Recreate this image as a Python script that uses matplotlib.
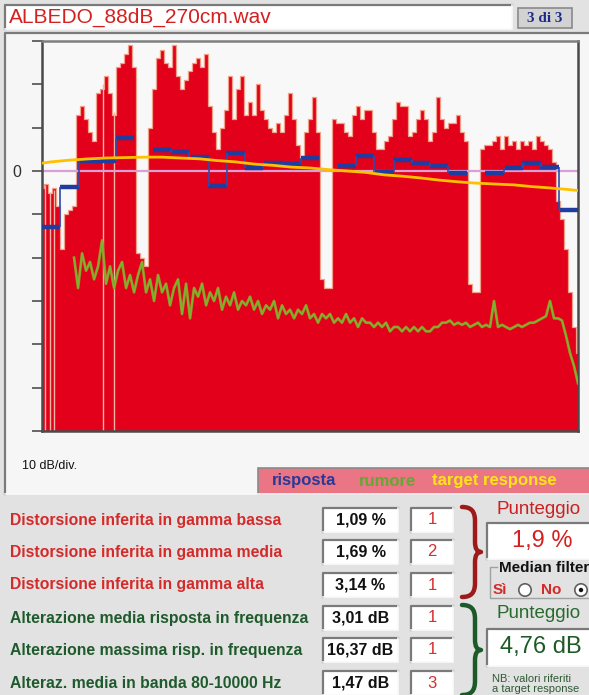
import numpy as np
import matplotlib
matplotlib.use("Agg")
import matplotlib.pyplot as plt
from matplotlib.patches import Rectangle, Circle, PathPatch
from matplotlib.path import Path
from matplotlib.ticker import NullLocator

plt.rcParams['font.family'] = ['Liberation Sans', 'DejaVu Sans']

# ---- data (dB relative, 10 dB/div) ----
f_lo, f_hi = 22.4, 17800  # frequency range of the plot, Hz

# measured response, sampled evenly on the log axis
resp_db = [-4, -3, -5, -4, -8, -18, -10, -9, -8, 13,
           15, 12, 9, 7, 18, 19, 22, 18, 13, 24,
           25, 27, 29, 24, -19, -20, -22, 10, 19, 26,
           28, 25, 24, 29, 22, 19, 21, 23, 25, 26,
           24, 27, 15, 9, 5, 10, 14, 22, 12, 19,
           22, 13, 16, 13, 20, 14, 12, 10, 9, 11,
           9, 13, 18, 12, 6, 3, 9, 12, 17, 9,
           -25, -27, -27, 12, 11, 11, 9, 8, 13, 15,
           12, 14, 14, 9, 5, 5, 7, 8, 12, 16,
           15, 15, 8, 9, 12, 14, 12, 7, 9, 17,
           12, 10, 11, 11, 13, 9, 7, -26, -28, -28,
           5, 6, 6, 7, 8, 5, 8, 6, 7, 5,
           7, 6, 7, 5, 8, 7, 6, 5, 2, -7,
           -11, -18, -28, -36, -42]

# narrow dropouts in the low range
dropout_hz = [23.3, 24.8, 26.1, 48.1, 55.1]

# noise ("rumore"), from noise_lo_hz to f_hi
noise_lo_hz = 33.4
noise_db = [-20, -27, -19, -23, -21, -25, -22, -16, -26, -22,
            -27, -23, -21, -27, -24, -28, -24, -21, -28, -25,
            -30, -24, -28, -26, -31, -27, -25, -33, -26, -34,
            -27, -29, -26, -31, -28, -30, -27, -32, -29, -31,
            -28, -32, -30, -31, -29, -32, -30, -33, -31, -32,
            -30, -34, -31, -33, -32, -34, -32, -33, -31, -34,
            -33, -35, -33, -34, -33, -35, -34, -35, -33, -35,
            -34, -36, -34, -35, -35, -36, -35, -36, -35, -37,
            -36, -36, -37, -36, -37, -36, -37, -36, -37, -37,
            -36, -36, -35, -35, -34.5, -35.5, -35, -35.5, -35, -36,
            -35.5, -35, -36, -35.5, -36, -30, -36, -35.5, -36, -36.5,
            -36, -35.5, -36, -35.5, -35, -35, -34.5, -34, -33.5, -30,
            -34, -34, -34.5, -38, -42, -45, -49]

# 1/3 octave bands: response ("risposta") and target response
band_hz = [25, 31.5, 40, 50, 63, 80, 100, 125, 160, 200, 250, 315, 400, 500,
           630, 800, 1000, 1250, 1600, 2000, 2500, 3150, 4000, 5000, 6300,
           8000, 10000, 12500, 16000]
band_db = [-12.9, -3.7, 2.3, 2.3, 7.6, np.nan, 4.8, 4.4, 3.2, -3.5, 4.2, 0.7,
           1.8, 1.6, 3.0, np.nan, 1.2, 3.5, -0.2, 2.5, 1.8, 1.2, -0.5, np.nan,
           -0.5, 0.7, 1.8, 0.9, -9.0]
target_db = [2.1, 2.5, 2.8, 3.0, 3.1, 3.2, 3.2, 3.0, 2.8, 2.4, 2.1, 1.6, 1.3,
             0.9, 0.7, 0.3, 0.0, -0.3, -0.9, -1.2, -1.6, -2.1, -2.5, -2.8,
             -3.0, -3.2, -3.6, -3.9, -4.3]

# table below the chart
row_labels = ["Distorsione inferita in gamma bassa",
              "Distorsione inferita in gamma media",
              "Distorsione inferita in gamma alta",
              "Alterazione media risposta in frequenza",
              "Alterazione massima risp. in frequenza",
              "Alteraz. media in banda 80-10000 Hz"]
row_values = ["1,09 %", "1,69 %", "3,14 %", "3,01 dB", "16,37 dB", "1,47 dB"]
row_scores = ["1", "2", "1", "1", "1", "3"]
score_dist = "1,9 %"
score_freq = "4,76 dB"

RED_TXT = '#d42a2a'
GREEN_TXT = '#1f5a2c'

# ---- figure and UI layer (pixel coordinates) ----
W, H = 589, 695
fig = plt.figure(figsize=(W / 100, H / 100), dpi=100, facecolor='#e2e2e2')
ui = fig.add_axes([0, 0, 1, 1])
ui.set_xlim(0, W)
ui.set_ylim(H, 0)
ui.axis('off')


def box(x0, y0, x1, y1, face='white'):
    ui.add_patch(Rectangle((x0, y0), x1 - x0, y1 - y0, facecolor=face, edgecolor='none'))
    ui.plot([x0, x0, x1], [y1, y0, y0], color='#7a7a7a', lw=1.6)
    ui.plot([x1, x1, x0], [y0, y1, y1], color='#fafafa', lw=1.2)


def brace(y0, y1, color):
    x0, x1, xm = 462, 475, 481
    ym = (y0 + y1) / 2
    verts = [(x0, y0), (x0 + 9, y0), (x1, y0 + 4), (x1, y0 + 14),
             (x1, ym - 10),
             (x1, ym), (xm, ym),
             (x1, ym), (x1, ym + 10),
             (x1, y1 - 14),
             (x1, y1 - 4), (x0 + 9, y1), (x0, y1)]
    codes = [Path.MOVETO, Path.CURVE4, Path.CURVE4, Path.CURVE4,
             Path.LINETO,
             Path.CURVE3, Path.CURVE3,
             Path.CURVE3, Path.CURVE3,
             Path.LINETO,
             Path.CURVE4, Path.CURVE4, Path.CURVE4]
    ui.add_patch(PathPatch(Path(verts, codes), facecolor='none', edgecolor=color,
                           lw=3.2, capstyle='round', joinstyle='round'))


# title bar
box(5, 5, 512, 29)
ui.text(9, 17.5, "ALBEDO_88dB_270cm.wav", color='#d42020', fontsize=15, va='center')
ui.add_patch(Rectangle((518, 8), 54, 20, facecolor='#d2d2d2', edgecolor='#8a8a8a', lw=1.2))
ui.text(545, 18, "3 di 3", color='#1c2a8c', fontsize=11, fontweight='bold',
        family='Liberation Serif', ha='center', va='center')

# chart panel
box(5, 33, 594, 494, face='#f6f6f6')
ui.text(22, 466, "10 dB/div.", fontsize=9, color='#111111', va='center')
ui.add_patch(Rectangle((258, 468), 340, 26, facecolor='#ea7585', edgecolor='#8a8a8a', lw=1.2))
ui.text(272, 481, "risposta", color='#2a3896', fontsize=12, fontweight='bold', va='center')
ui.text(359, 481, "rumore", color='#62a832', fontsize=12, fontweight='bold', va='center')
ui.text(432, 481, "target response", color='#ffe418', fontsize=12, fontweight='bold', va='center')

# table
row_y = [520, 552, 585, 618, 650, 683]
for i, (lab, val, sc) in enumerate(zip(row_labels, row_values, row_scores)):
    y = row_y[i]
    ui.text(10, y, lab, color=RED_TXT if i < 3 else GREEN_TXT, fontsize=11.3,
            fontweight='bold', va='center')
    box(323, y - 12, 398, y + 12)
    ui.text(360.5, y, val, fontsize=11.5, fontweight='bold', color='#111111',
            ha='center', va='center')
    box(411, y - 12, 453, y + 12)
    ui.text(432, y, sc, fontsize=12, color='#d03030', ha='center', va='center')

brace(507, 597, '#9c1a1a')
brace(605, 695, '#1c5a2a')

# score panels
ui.text(497, 510, "Punteggio", color='#cc2020', fontsize=13.5, va='center')
box(487, 523, 595, 559)
ui.text(542, 541, score_dist, color='#d42020', fontsize=17, ha='center', va='center')

ui.plot([497, 490, 490, 595], [567, 567, 598, 598], color='#a0a0a0', lw=1)
ui.text(499, 568, "Median filter", fontsize=11, fontweight='bold', color='#111111', va='center')
ui.text(493, 590, "Sì", fontsize=11, fontweight='bold', color=RED_TXT, va='center')
ui.add_patch(Circle((525, 590), 6.2, facecolor='white', edgecolor='#606060', lw=1.2))
ui.text(541, 590, "No", fontsize=11, fontweight='bold', color=RED_TXT, va='center')
ui.add_patch(Circle((581, 590), 6.2, facecolor='white', edgecolor='#606060', lw=1.2))
ui.add_patch(Circle((581, 590), 2.2, facecolor='#111111', edgecolor='none'))

ui.text(497, 614, "Punteggio", color='#2a6a2e', fontsize=13.5, va='center')
box(487, 629, 595, 666)
ui.text(541, 647, score_freq, color='#1e5a28', fontsize=17, ha='center', va='center')
ui.text(492, 679, "NB: valori riferiti", color='#2e5a34', fontsize=8, va='center')
ui.text(492, 688.5, "a target response", color='#2e5a34', fontsize=8, va='center')

# ---- chart ----
ax = fig.add_axes([42 / W, 1 - 431 / H, 536 / W, 390 / H])
ax.set_facecolor('#f8f8f8')
ax.set_xscale('log')
ax.set_xlim(f_lo, f_hi)
ax.set_ylim(-60, 30)

resp_hz = np.geomspace(f_lo, f_hi, len(resp_db))
ax.fill_between(resp_hz, -60, resp_db, step='mid', color='#e2001a', lw=0, zorder=1)
ax.step(resp_hz, resp_db, where='mid', color='#f3a08a', lw=0.9, zorder=1.1)
drop_top = np.interp(np.log(dropout_hz), np.log(resp_hz), resp_db)
ax.vlines(dropout_hz, -60, drop_top, color='#f6b4a4', lw=1, zorder=1.2)

ax.axhline(0, color='#d8a0d6', lw=1.6, zorder=2)

noise_hz = np.geomspace(noise_lo_hz, f_hi, len(noise_db))
ax.plot(noise_hz, noise_db, color='#a08a22', lw=2.0, zorder=3)
ax.plot(noise_hz, noise_db, color='#7cb432', lw=1.1, zorder=3.1)

band = np.array(band_hz, dtype=float)
lvl = np.array(band_db, dtype=float)
lo, hi = band / 10 ** 0.05, band * 10 ** 0.05
ax.hlines(lvl, lo, hi, color='#1f3c9e', lw=3.2, zorder=4)
for k in range(len(lvl) - 1):
    if np.isfinite(lvl[k]) and np.isfinite(lvl[k + 1]):
        ax.vlines(hi[k], min(lvl[k], lvl[k + 1]), max(lvl[k], lvl[k + 1]),
                  color='#2c4cb0', lw=1.2, zorder=4)

t_hz = [f_lo] + band_hz + [f_hi]
t_db = [target_db[0] - 0.3] + target_db + [target_db[-1] - 0.2]
ax.plot(t_hz, t_db, color='#ffc000', lw=2.0, zorder=5)

ax.xaxis.set_minor_locator(NullLocator())
ax.tick_params(axis='x', which='both', bottom=False, labelbottom=False)
yt = list(range(-60, 31, 10))
ax.set_yticks(yt)
ax.set_yticklabels(['0' if v == 0 else '' for v in yt])
ax.tick_params(axis='y', direction='out', length=7, width=1.1, color='#404040',
               labelsize=11.5, labelcolor='#303030', pad=8)
for name, sp in ax.spines.items():
    sp.set_color('#808080' if name == 'top' else '#4a4a4a')
    sp.set_linewidth(1.8)

fig.savefig("out.png", dpi=100, facecolor=fig.get_facecolor())
